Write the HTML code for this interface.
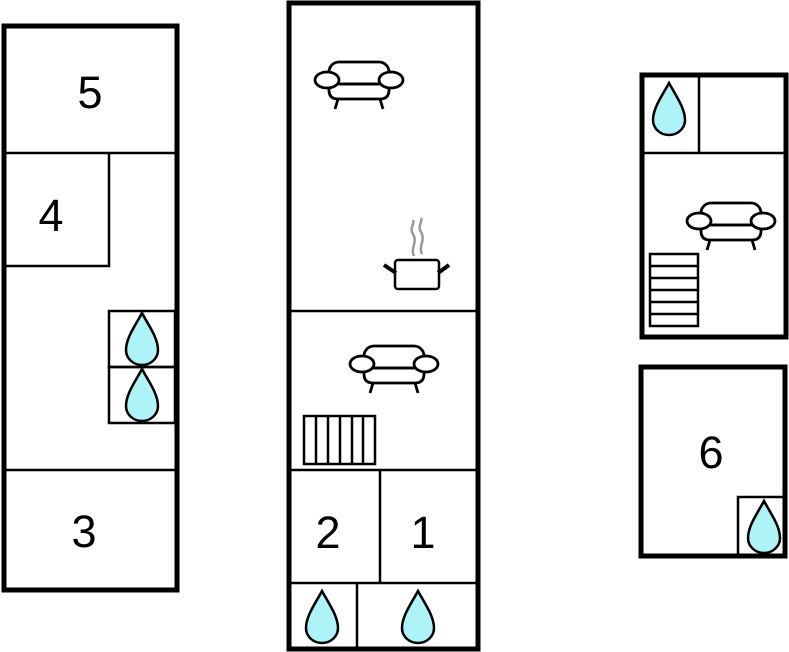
<!DOCTYPE html>
<html><head><style>html,body{margin:0;padding:0;background:#fff}svg{display:block}</style></head>
<body>
<svg width="789" height="652" viewBox="0 0 789 652" xmlns="http://www.w3.org/2000/svg">
<defs>
<g id="drop"><path d="M0,-27 C7,-14 16,-2 16,10 A16,15 0 0 1 -16,10 C-16,-2 -7,-14 0,-27Z" fill="#aef3f8" stroke="#000" stroke-width="2.5"/></g>
<g id="sofa" fill="#fff" stroke="#000" stroke-width="2.8">
<path d="M-30,18 L-30,28 Q-30,37 -21,37 L21,37 Q30,37 30,28 L30,18"/>
<rect x="-30" y="0" width="60" height="22" rx="10"/>
<ellipse cx="-32" cy="18" rx="12" ry="8"/>
<ellipse cx="32" cy="18" rx="12" ry="8"/>
<line x1="-20" y1="22" x2="20" y2="22"/>
<path d="M-21,37 L-24,47 M21,37 L24,47" fill="none"/>
</g>
</defs>
<g fill="none" stroke="#000">
<rect x="4" y="26" width="173" height="564" stroke-width="5"/>
<line x1="4" y1="153" x2="177" y2="153" stroke-width="2.5"/>
<path d="M4,266 H109 V153" stroke-width="2.5"/>
<rect x="109" y="311" width="66" height="56" stroke-width="2.5"/>
<rect x="109" y="367" width="66" height="56" stroke-width="2.5"/>
<line x1="4" y1="470" x2="177" y2="470" stroke-width="2.5"/>
<rect x="289" y="3" width="189" height="646" stroke-width="5"/>
<line x1="289" y1="311" x2="478" y2="311" stroke-width="2.5"/>
<line x1="289" y1="470" x2="478" y2="470" stroke-width="2.5"/>
<line x1="380" y1="470" x2="380" y2="583" stroke-width="2.5"/>
<line x1="289" y1="583" x2="478" y2="583" stroke-width="2.5"/>
<line x1="357" y1="583" x2="357" y2="649" stroke-width="2.5"/>
<rect x="304" y="416" width="71" height="48" stroke-width="2.5"/>
<path d="M316,416V464M328,416V464M340,416V464M352,416V464M363,416V464" stroke-width="2.5"/>
<rect x="642" y="75" width="144" height="262" stroke-width="5"/>
<line x1="642" y1="153" x2="786" y2="153" stroke-width="2.5"/>
<line x1="699" y1="75" x2="699" y2="153" stroke-width="2.5"/>
<rect x="650" y="254" width="48" height="72" stroke-width="2.5"/>
<path d="M650,266H698M650,278H698M650,290H698M650,302H698M650,314H698" stroke-width="2.5"/>
<rect x="641" y="367" width="144" height="189" stroke-width="5"/>
<rect x="738" y="497" width="46" height="58" stroke-width="2.5"/>
<rect x="395" y="260" width="44" height="29" rx="3" stroke-width="2.5"/>
<path d="M384,265 L396,273 M438,273 L449,265" stroke-width="4"/>
<path d="M414,256 C410,248 418,242 413,234 C409,228 415,224 413,220 M422,254 C418,246 426,240 421,232 C417,226 423,222 421,218" stroke="#999" stroke-width="2.5"/>
</g>
<use href="#drop" x="142" y="340"/>
<use href="#drop" x="142" y="396"/>
<use href="#drop" x="322" y="618"/>
<use href="#drop" x="418" y="618"/>
<use href="#drop" x="669" y="110"/>
<use href="#drop" x="764" y="528"/>
<use href="#sofa" x="359" y="62"/>
<use href="#sofa" x="394" y="346"/>
<use href="#sofa" x="731" y="203"/>
<g font-family="Liberation Sans, sans-serif" font-size="45" text-anchor="middle" fill="#000">
<text x="90" y="108">5</text>
<text x="51" y="231">4</text>
<text x="84" y="547">3</text>
<text x="328" y="548">2</text>
<text x="423" y="548">1</text>
<text x="711" y="468">6</text>
</g>
</svg>
</body></html>
